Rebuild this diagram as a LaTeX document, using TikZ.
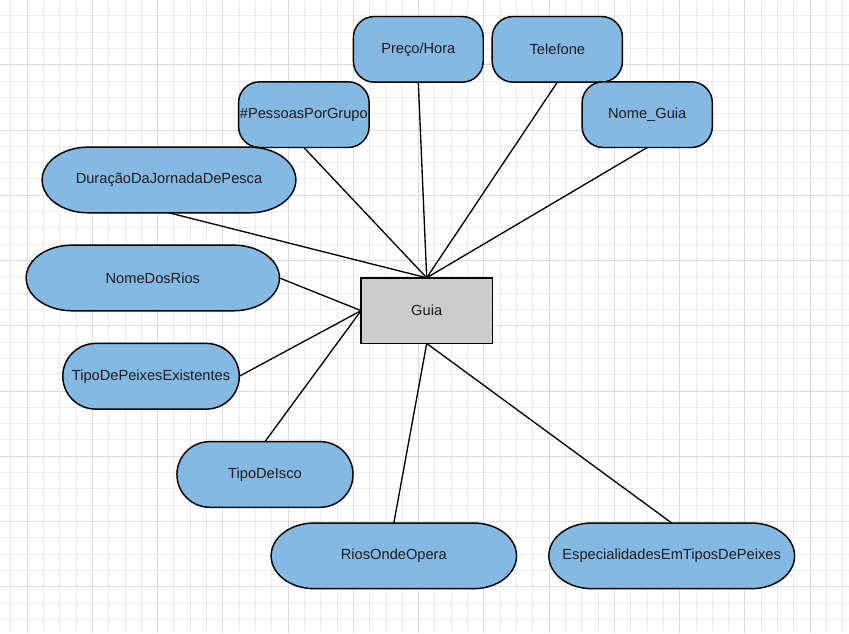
\documentclass[tikz,border=0pt]{standalone}
\usepackage{fontspec}
\setmainfont{Liberation Sans}

\pgfdeclarelayer{grid}
\pgfdeclarelayer{shapes}
\pgfsetlayers{grid,shapes,main}

\definecolor{attrblue}{HTML}{83B9E3}
\definecolor{entgray}{HTML}{CCCCCC}
\definecolor{gridminor}{HTML}{EBEBEB}
\definecolor{gridmajor}{HTML}{DCDCDC}
\definecolor{ink}{HTML}{1C1C1C}

\tikzset{
  attr/.style={rectangle, inner sep=0pt, outer sep=0pt, minimum height=49.3pt, font=\fontsize{11}{13}\selectfont, text=ink},
  ent/.style={rectangle, draw=black, fill=entgray, line width=1.1pt, inner sep=0pt, outer sep=0pt, minimum width=98.5pt, minimum height=49.3pt, font=\fontsize{11}{13}\selectfont, text=ink},
  link/.style={line width=1pt},
}

% name, x, y, width (px), corner x radius (pt), corner y radius (pt), text
\newcommand{\entattr}[7]{%
  \node[attr, minimum width=#4*0.75pt] (#1) at (#2,#3) {#7};
  \begin{pgfonlayer}{shapes}
  \draw[fill=attrblue, line width=1.1pt]
    ([xshift=#5pt]#1.north west) -- ([xshift=-#5pt]#1.north east)
    arc[start angle=90, end angle=0, x radius=#5pt, y radius=#6pt]
    -- ([yshift=#6pt]#1.south east)
    arc[start angle=0, end angle=-90, x radius=#5pt, y radius=#6pt]
    -- ([xshift=#5pt]#1.south west)
    arc[start angle=270, end angle=180, x radius=#5pt, y radius=#6pt]
    -- ([yshift=-#6pt]#1.north west)
    arc[start angle=180, end angle=90, x radius=#5pt, y radius=#6pt] -- cycle;
  \end{pgfonlayer}}

\begin{document}
\begin{tikzpicture}[x=0.75pt, y=-0.75pt]

 \begin{pgfonlayer}{grid}
 \fill[white] (0,0) rectangle (849,633);
 \foreach \i in {0,...,51} \draw[gridminor, line width=0.75pt] ({10.33+16.333*\i},0) -- ({10.33+16.333*\i},633);
 \foreach \j in {0,...,37} \draw[gridminor, line width=0.75pt] (0,{15.33+16.333*\j}) -- (849,{15.33+16.333*\j});
 \foreach \i in {0,...,12} \draw[gridmajor, line width=0.75pt] ({26.67+65.33*\i},0) -- ({26.67+65.33*\i},633);
 \foreach \j in {0,...,8} \draw[gridmajor, line width=0.75pt] (0,{64.33+65.33*\j}) -- (849,{64.33+65.33*\j});
 \end{pgfonlayer}
 \useasboundingbox (0,0) rectangle (849,633);

 \node[ent] (guia) at (426.7,310.5) {Guia};

 \entattr{preco}{418.3}{48.9}{130}{15.75}{15.75}{Preço/Hora}
 \entattr{telefone}{557.5}{48.9}{130.4}{15.75}{15.75}{Telefone}
 \entattr{pessoas}{303.7}{114.3}{130.7}{15.75}{15.75}{\#PessoasPorGrupo}
 \entattr{nomeguia}{647.5}{114.3}{130.4}{15.75}{15.75}{Nome\_Guia}
 \entattr{duracao}{168.7}{179.7}{254}{34.5}{24.6}{DuraçãoDaJornadaDePesca}
 \entattr{nomerios}{152.5}{277.8}{253.6}{34.5}{24.6}{NomeDosRios}
 \entattr{tipopeixes}{150.7}{376.2}{176.7}{24.75}{24.6}{TipoDePeixesExistentes}
 \entattr{tipoisco}{264.8}{474.5}{176.3}{24.75}{24.6}{TipoDeIsco}
 \entattr{rios}{393.8}{556}{245.7}{32.25}{24.6}{RiosOndeOpera}
 \entattr{especial}{672}{556}{246}{32.25}{24.6}{EspecialidadesEmTiposDePeixes}

 \draw[link] (preco.south) -- (guia.north);
 \draw[link] (telefone.south) -- (guia.north);
 \draw[link] (pessoas.south) -- (guia.north);
 \draw[link] (nomeguia.south) -- (guia.north);
 \draw[link] (duracao.south) -- (guia.north);

 \draw[link] (nomerios.east) -- (guia.west);
 \draw[link] (tipopeixes.east) -- (guia.west);
 \draw[link] (tipoisco.north) -- (guia.west);

 \draw[link] (rios.north) -- (guia.south);
 \draw[link] (especial.north) -- (guia.south);

\end{tikzpicture}
\end{document}
